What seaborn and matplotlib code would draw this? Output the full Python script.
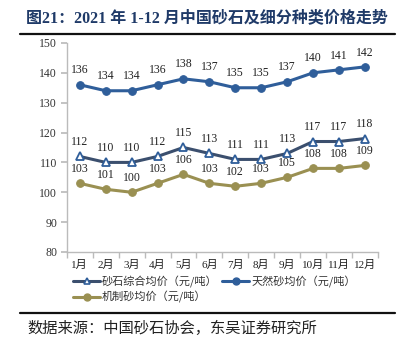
import matplotlib
matplotlib.use("Agg")
import matplotlib.pyplot as plt
import seaborn as sns
import pandas as pd
from matplotlib.lines import Line2D

months = ["1月", "2月", "3月", "4月", "5月", "6月", "7月", "8月", "9月", "10月", "11月", "12月"]
natural = [136, 134, 134, 136, 138, 137, 135, 135, 137, 140, 141, 142]
composite = [112, 110, 110, 112, 115, 113, 111, 111, 113, 117, 117, 118]
machine = [103, 101, 100, 103, 106, 103, 102, 103, 105, 108, 108, 109]
series_names = ["砂石综合均价（元/吨）", "天然砂均价（元/吨）", "机制砂均价（元/吨）"]
yticks = [80, 90, 100, 110, 120, 130, 140, 150]

sns.set_theme(style="white")
plt.rcParams['font.family'] = ['Liberation Serif', 'Noto Sans CJK SC', 'DejaVu Sans']

df = pd.DataFrame({
    "x": list(range(len(months))) * 3,
    "value": composite + natural + machine,
    "series": [series_names[0]] * 12 + [series_names[1]] * 12 + [series_names[2]] * 12,
})

c_comp = "#3B4F6E"
c_nat = "#2F5E9A"
c_mach = "#9A9052"

fig = plt.figure(figsize=(4.05, 3.41), dpi=100)
ax = fig.add_axes([0.165, 0.261, 0.768, 0.613])

sns.lineplot(data=df[df.series == series_names[1]], x="x", y="value", ax=ax,
             color=c_nat, lw=2.2, marker="o", markersize=5.5, markeredgecolor=c_nat, legend=False)
sns.lineplot(data=df[df.series == series_names[0]], x="x", y="value", ax=ax,
             color=c_comp, lw=2.2, marker="^", markersize=5.5, markerfacecolor="white",
             markeredgecolor="#2F5E9A", markeredgewidth=1.3, legend=False)
sns.lineplot(data=df[df.series == series_names[2]], x="x", y="value", ax=ax,
             color=c_mach, lw=2.2, marker="o", markersize=5.5, markeredgecolor=c_mach, legend=False)

for vals in (natural, composite, machine):
    for i, v in enumerate(vals):
        ax.annotate(str(v), (i, v), xytext=(0, 6), textcoords="offset points",
                    ha="center", va="bottom", fontsize=8.5, color="#222222",
                    family="Liberation Serif")

ax.set_xlim(-0.5, 11.5)
ax.set_ylim(80, 150)
ax.set_yticks(yticks)
ax.set_yticklabels([str(t) for t in yticks], fontsize=8.5, color="#333333")
ax.set_xticks(range(len(months)))
ax.set_xticklabels(months, fontsize=8, color="#222222")
ax.set_xticks([i + 0.5 for i in range(-1, 12)], minor=True)
ax.tick_params(axis="x", which="major", length=0, pad=6)
ax.tick_params(axis="x", which="minor", length=4, color="#BBBBBB", direction="out", bottom=True)
ax.tick_params(axis="y", length=4, color="#BBBBBB", direction="out", left=True, pad=3)
ax.set_xlabel("")
ax.set_ylabel("")
for s in ("top", "right"):
    ax.spines[s].set_visible(False)
for s in ("left", "bottom"):
    ax.spines[s].set_color("#BBBBBB")
    ax.spines[s].set_linewidth(1.0)

h_comp = Line2D([], [], color=c_comp, lw=2.2, marker="^", markersize=5, markerfacecolor="white",
                markeredgecolor="#2F5E9A", markeredgewidth=1.2)
h_nat = Line2D([], [], color=c_nat, lw=2.2, marker="o", markersize=5)
h_mach = Line2D([], [], color=c_mach, lw=2.2, marker="o", markersize=5)
leg = fig.legend([h_comp, h_mach, h_nat], [series_names[0], series_names[2], series_names[1]],
                 loc="upper left", bbox_to_anchor=(0.17, 0.205),
                 ncol=2, frameon=False, handlelength=2.4, handletextpad=0.2,
                 columnspacing=0.4, labelspacing=0.35, borderaxespad=0,
                 prop={"family": ["Noto Sans CJK SC"], "size": 8})
for t in leg.get_texts():
    t.set_color("#333333")

fig.text(0.51, 0.948, "图21：2021 年 1-12 月中国砂石及细分种类价格走势", ha="center", va="center",
         fontsize=11.5, fontweight="bold", color="#1F3A68",
         family=["Liberation Serif", "Noto Sans CJK SC"])
fig.add_artist(Line2D([0.05, 0.975], [0.9, 0.9], color="#111111", lw=1.6, transform=fig.transFigure))
fig.add_artist(Line2D([0.05, 0.975], [0.082, 0.082], color="#111111", lw=1.6, transform=fig.transFigure))
fig.text(0.068, 0.037, "数据来源：中国砂石协会，东吴证券研究所", ha="left", va="center",
         fontsize=11, color="#222222", family=["Noto Sans CJK SC"])

fig.savefig("out.png", dpi=100)
